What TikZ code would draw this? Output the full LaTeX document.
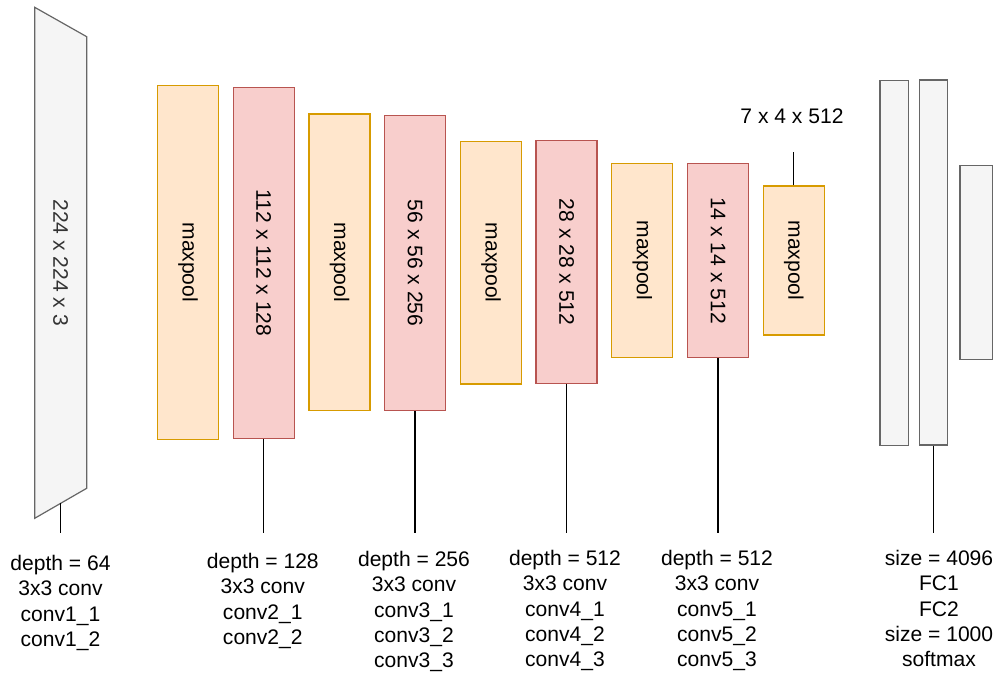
\documentclass[tikz,border=0pt]{standalone}
\usepackage{fontspec}
\setmainfont{Liberation Sans}
\usepackage{graphicx}
\usetikzlibrary{positioning}
\definecolor{poolfill}{HTML}{FFE6CC}
\definecolor{pooldraw}{HTML}{D79B00}
\definecolor{convfill}{HTML}{F8CECC}
\definecolor{convdraw}{HTML}{B85450}
\definecolor{fcfill}{HTML}{F5F5F5}
\definecolor{fcdraw}{HTML}{666666}
\definecolor{intext}{HTML}{333333}
\tikzset{block/.style = {draw, line width=0.9pt, minimum width=45.75pt, inner sep=0,
                         font=\fontsize{15.8}{19}\selectfont}}
\tikzset{pool/.style = {block, fill=poolfill, draw=pooldraw}}
\tikzset{conv/.style = {block, fill=convfill, draw=convdraw}}
\tikzset{fc/.style = {block, fill=fcfill, draw=fcdraw, minimum width=21.5pt}}
\tikzset{link/.style = {line width=0.9pt}}
\tikzset{lbl/.style = {align=center, anchor=north, inner sep=0,
                       font=\fontsize{15.8}{19}\selectfont}}

\begin{document}
\begin{tikzpicture}[x=0.75pt, y=-0.75pt]
    \useasboundingbox (0,0) rectangle (995,673);
    % input image
    \filldraw [fill=fcfill, draw=fcdraw, line width=0.9pt]
      (34.7,7.3) -- (86.7,36.7) -- (86.7,488.3) -- (34.7,518.3) -- cycle;
    \node [text=intext, font=\fontsize{15.8}{19}\selectfont] (in) at (60.7,262.8)
      {\rotatebox{-90}{224 x 224 x 3}};
    \coordinate (in-b) at (60.7,503.3);
    \coordinate (in-e) at (60.7,532.7);
    \draw [link] (in-b) -- (in-e);
    % maxpool blocks
    \foreach \n/\x/\y/\h in {p1/188/262.3/265.5pt, p2/339.5/262.3/222.5pt,
                             p3/491/262.7/182pt, p4/642.2/260.5/145.8pt,
                             p5/793.7/260.5/111.8pt} {
      \node [pool, minimum height=\h] (\n) at (\x,\y) {\rotatebox{-90}{maxpool}};
    }
    % conv blocks
    \foreach \n/\x/\y/\h/\t in {c2/263.7/263/263.5pt/112 x 112 x 128,
                                c3/415/263/221.5pt/56 x 56 x 256,
                                c4/566.5/262/182pt/28 x 28 x 512,
                                c5/718/260.5/145.8pt/14 x 14 x 512} {
      \node [conv, minimum height=\h] (\n) at (\x,\y) {\rotatebox{-90}{\t}};
      \coordinate (\n-e) at (\x,532.7);
      \draw [link] (\n.south) -- (\n-e);
    }
    % fully connected
    \node [fc, minimum height=273.8pt] (f1) at (894.3,263) {};
    \node [fc, minimum height=273.8pt] (f2) at (933.5,262.5) {};
    \node [fc, minimum height=145.5pt, minimum width=24.5pt] (f3) at (976.3,262.3) {};
    \coordinate (f2-e) at (933.5,532.7);
    \draw [link] (f2.south) -- (f2-e);
    % output size of last pool
    \node [font=\fontsize{15.8}{19}\selectfont, inner sep=0] (s5) at (792,116) {7 x 4 x 512};
    \coordinate (p5-t) at (793.7,151.7);
    \draw [link] (p5.north) -- (p5-t);
    % captions
    \node [lbl] (l1) at (60.5,555) {depth = 64\\3x3 conv\\conv1\_1\\conv1\_2};
    \node [lbl] (l2) at (262.8,553) {depth = 128\\3x3 conv\\conv2\_1\\conv2\_2};
    \node [lbl] (l3) at (414,551) {depth = 256\\3x3 conv\\conv3\_1\\conv3\_2\\conv3\_3};
    \node [lbl] (l4) at (565,550) {depth = 512\\3x3 conv\\conv4\_1\\conv4\_2\\conv4\_3};
    \node [lbl] (l5) at (717,550) {depth = 512\\3x3 conv\\conv5\_1\\conv5\_2\\conv5\_3};
    \node [lbl] (l6) at (939,550) {size = 4096\\FC1\\FC2\\size = 1000\\softmax};
\end{tikzpicture}
\end{document}
